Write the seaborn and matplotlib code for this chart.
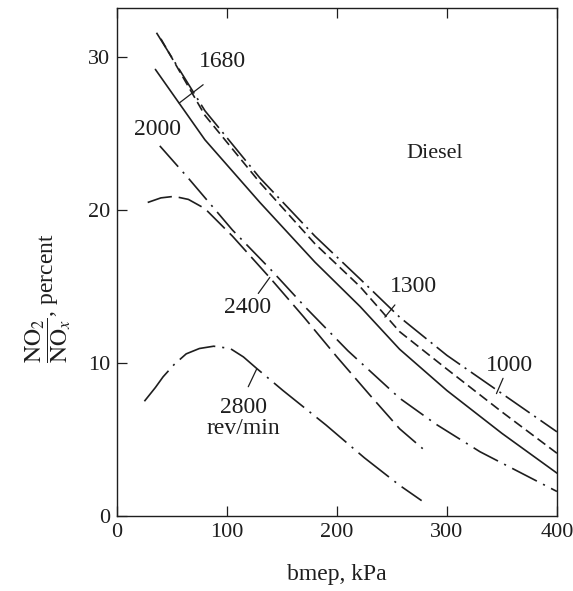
import matplotlib
matplotlib.use("Agg")
import matplotlib.pyplot as plt
import seaborn as sns
import pandas as pd

sns.set_style("ticks")
plt.rcParams['font.family'] = ['Liberation Serif', 'DejaVu Serif']
plt.rcParams['mathtext.fontset'] = 'stix'
plt.rcParams['lines.scale_dashes'] = False

ink = "#1e1e1e"

# curves (bmep kPa, NO2/NOx percent)
x_1000 = [36, 80, 130, 180, 221, 257, 300, 350, 400]
y_1000 = [31.6, 26.5, 22.1, 18.3, 15.5, 13.0, 10.5, 8.0, 5.5]

x_1300 = [40, 80, 130, 180, 221, 257, 300, 350, 400]
y_1300 = [31.2, 26.2, 21.8, 17.8, 15.0, 12.05, 9.6, 6.8, 4.1]

x_1680 = [35, 80, 130, 180, 221, 257, 300, 350, 400]
y_1680 = [29.2, 24.6, 20.5, 16.6, 13.7, 10.9, 8.2, 5.4, 2.8]

x_2000 = [39, 66, 105, 140, 172, 210, 257, 290, 330, 400]
y_2000 = [24.2, 22.0, 18.7, 16.1, 13.6, 10.8, 7.7, 6.0, 4.2, 1.6]

x_2400 = [28, 40, 52, 65, 80, 105, 140, 170, 200, 230, 257, 278]
y_2400 = [20.5, 20.8, 20.9, 20.7, 20.1, 18.3, 15.5, 13.0, 10.4, 7.9, 5.7, 4.4]

x_2800 = [25, 35, 42, 52, 63, 75, 88, 103, 115, 127, 151, 190, 225, 257, 277]
y_2800 = [7.5, 8.4, 9.1, 9.9, 10.6, 10.95, 11.1, 10.95, 10.4, 9.65, 8.2, 5.95, 3.8, 2.0, 1.0]

speeds = ["1000", "1300", "1680", "2000", "2400", "2800"]
curves = [(x_1000, y_1000), (x_1300, y_1300), (x_1680, y_1680),
          (x_2000, y_2000), (x_2400, y_2400), (x_2800, y_2800)]
line_styles = {
    "1000": (0, (21, 4, 1.5, 4)),
    "1300": (0, (7, 3.5)),
    "1680": "-",
    "2000": (0, (20, 5, 1.5, 5)),
    "2400": (0, (18, 5)),
    "2800": (0, (28, 5, 1.5, 5)),
}

# label text, text position, leader start, leader end
labels = [
    ("1680", (95.7, 29.7), (78.4, 28.2), (56.6, 27.0)),
    ("2000", (36.5, 25.3), None, None),
    ("2400", (118.6, 13.6), (128.5, 14.55), (139, 15.6)),
    ("2800\nrev/min", (115, 6.4), (119.4, 8.45), (127, 9.6)),
    ("1300", (270, 15.0), (252.7, 13.8), (243.6, 13.0)),
    ("1000", (356.4, 9.87), (351, 9.0), (345, 8.0)),
]

fig = plt.figure(figsize=(5.73, 5.91), dpi=100)
ax = fig.add_axes([0.204, 0.127, 0.768, 0.859])

for name, (xs, ys) in zip(speeds, curves):
    df = pd.DataFrame({"bmep": xs, "ratio": ys})
    sns.lineplot(data=df, x="bmep", y="ratio", ax=ax, color=ink, lw=1.2,
                 linestyle=line_styles[name], sort=False)

for text, pos, p0, p1 in labels:
    ax.text(pos[0], pos[1], text, ha="center", va="center", fontsize=17,
            color=ink, linespacing=1.0)
    if p0 is not None:
        ax.plot([p0[0], p1[0]], [p0[1], p1[1]], color=ink, lw=0.9)

ax.text(289, 23.7, "Diesel", ha="center", va="center", fontsize=16, color=ink)

ax.set_xlim(0, 400)
ax.set_ylim(0, 33.2)
ax.set_xticks([0, 100, 200, 300, 400])
ax.set_yticks([0, 10, 20, 30])
ax.tick_params(direction="in", length=7, width=0.9, labelsize=16,
               colors=ink, top=True, right=False, pad=5)
for s in ax.spines.values():
    s.set_color(ink)
    s.set_linewidth(1.0)

ax.set_xlabel("bmep, kPa", fontsize=17, color=ink, labelpad=16)
ax.set_ylabel(r"$\dfrac{\mathrm{NO_2}}{\mathrm{NO}_x}$, percent", fontsize=17,
              color=ink)
ax.yaxis.set_label_coords(-0.10, 0.43)

fig.savefig("out.png", dpi=100)
